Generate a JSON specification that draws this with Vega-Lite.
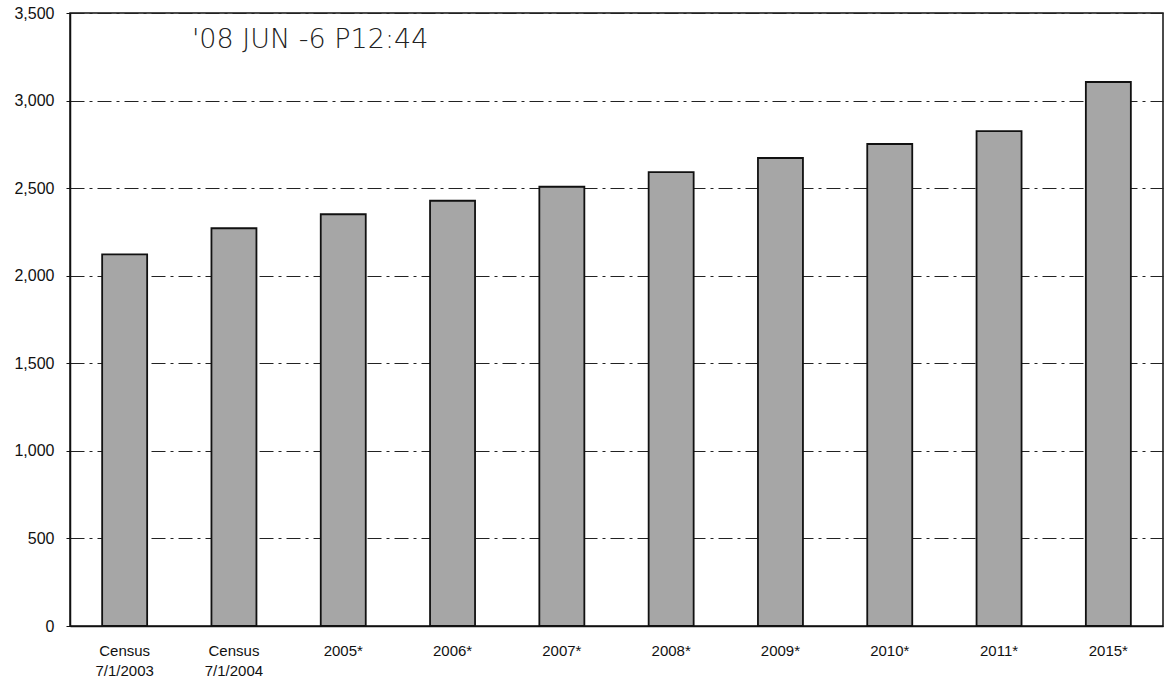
{
  "$schema": "https://vega.github.io/schema/vega-lite/v6.json",
  "autosize": "none",
  "width": 1093,
  "height": 613,
  "padding": {"left": 70, "top": 13, "right": 1, "bottom": 59},
  "background": "white",
  "config": {
    "view": {"stroke": "#111", "strokeWidth": 1.5},
    "font": "Liberation Sans"
  },
  "data": {
    "values": [
      {"label": "Census 7/1/2003", "value": 2122},
      {"label": "Census 7/1/2004", "value": 2271},
      {"label": "2005*", "value": 2351},
      {"label": "2006*", "value": 2428},
      {"label": "2007*", "value": 2508},
      {"label": "2008*", "value": 2592},
      {"label": "2009*", "value": 2672},
      {"label": "2010*", "value": 2752},
      {"label": "2011*", "value": 2826},
      {"label": "2015*", "value": 3106}
    ]
  },
  "layer": [
    {
      "mark": {"type": "bar", "width": 45, "fill": "#a6a6a6", "stroke": "#111", "strokeWidth": 1.8},
      "encoding": {
        "x": {
          "field": "label",
          "type": "nominal",
          "sort": null,
          "scale": {"paddingInner": 0, "paddingOuter": 0},
          "axis": {
            "title": null,
            "labelAngle": 0,
            "labelExpr": "split(datum.label, ' ')",
            "labelFont": "Liberation Sans",
            "labelFontSize": 15,
            "labelColor": "#111",
            "labelPadding": 17,
            "labelLineHeight": 20,
            "ticks": false,
            "domainColor": "#111",
            "domainWidth": 1.5,
            "grid": false
          }
        },
        "y": {
          "field": "value",
          "type": "quantitative",
          "scale": {"domain": [0, 3500]},
          "axis": {
            "title": null,
            "values": [0, 500, 1000, 1500, 2000, 2500, 3000, 3500],
            "format": ",.0f",
            "labelFont": "Liberation Sans",
            "labelFontSize": 16,
            "labelColor": "#111",
            "labelPadding": 12,
            "tickSize": 4,
            "tickColor": "#111",
            "domainColor": "#111",
            "domainWidth": 1.5,
            "grid": true,
            "gridColor": "#222",
            "gridWidth": 1,
            "gridDash": [14, 5, 3, 5]
          }
        }
      }
    },
    {
      "data": {"values": [{"stamp": "'08  JUN -6  P12:44"}]},
      "mark": {
        "type": "text",
        "align": "left",
        "baseline": "middle",
        "dx": -42,
        "font": "DejaVu Sans",
        "fontWeight": 200,
        "fontSize": 27,
        "color": "#222"
      },
      "encoding": {
        "x": {"datum": "Census 7/1/2004", "type": "nominal"},
        "y": {"datum": 3345, "type": "quantitative"},
        "text": {"field": "stamp"}
      }
    }
  ]
}
